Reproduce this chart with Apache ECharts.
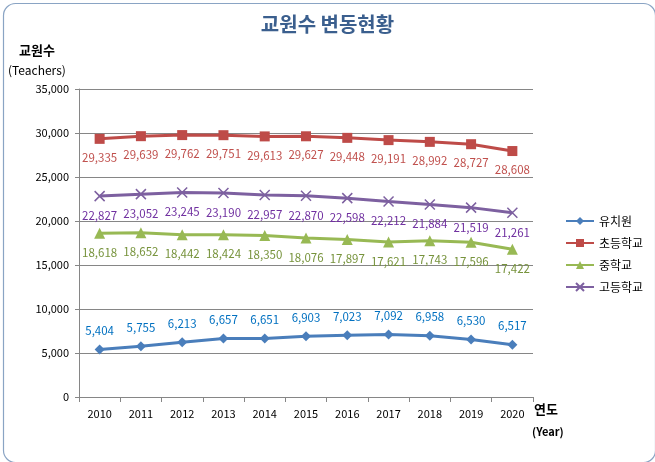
<!DOCTYPE html>
<html><head><meta charset="utf-8">
<script src="https://cdn.jsdelivr.net/npm/echarts@6/dist/echarts.min.js"></script>
<style>html,body{margin:0;padding:0;background:#fff}#c{width:655px;height:462px}</style>
</head><body><div id="c"></div>
<script>
const years = ['2010','2011','2012','2013','2014','2015','2016','2017','2018','2019','2020'];
const seriesNames = ['유치원','초등학교','중학교','고등학교'];
// plotted values (2020 points)
const kinder = [5404,5755,6213,6657,6651,6903,7023,7092,6958,6530,5950];
const elem = [29335,29639,29762,29751,29613,29627,29448,29191,28992,28727,27950];
const middle = [18618,18652,18442,18424,18350,18076,17897,17621,17743,17596,16780];
const high = [22827,23052,23245,23190,22957,22870,22598,22212,21884,21519,20940];
// data label texts
const kinderLabels = [5404,5755,6213,6657,6651,6903,7023,7092,6958,6530,6517];
const elemLabels = [29335,29639,29762,29751,29613,29627,29448,29191,28992,28727,28608];
const middleLabels = [18618,18652,18442,18424,18350,18076,17897,17621,17743,17596,17422];
const highLabels = [22827,23052,23245,23190,22957,22870,22598,22212,21884,21519,21261];
const yTicks = [0,5000,10000,15000,20000,25000,30000,35000];

const FONT = '"Noto Sans CJK KR", "Noto Sans", sans-serif';
const fmt = v => Number(v).toLocaleString('en-US');
const chart = echarts.init(document.getElementById('c'));

function mk(name, data, labels, color, labelColor, symbol, size, pos, extra) {
  return Object.assign({
    name, type: 'line', data, symbol, symbolSize: size,
    lineStyle: { width: 3, color },
    itemStyle: { color },
    label: {
      show: true, position: pos, distance: 8, color: labelColor,
      fontSize: 11.5, fontFamily: FONT,
      formatter: p => fmt(labels[p.dataIndex])
    },
    emphasis: { disabled: true },
    animation: false
  }, extra || {});
}

chart.setOption({
  animation: false,
  textStyle: { fontFamily: FONT },
  title: {
    text: '교원수 변동현황', left: 'center', top: 9,
    textStyle: { fontSize: 20, fontWeight: 'bold', color: '#3b5f8e', fontFamily: FONT }
  },
  legend: {
    orient: 'vertical', left: 560, top: 210, itemWidth: 28, itemHeight: 10, itemGap: 10,
    textStyle: { fontSize: 12, color: '#000', fontFamily: FONT },
    data: seriesNames
  },
  grid: { left: 79, right: 122, top: 89, bottom: 65 },
  xAxis: {
    type: 'category', data: years, boundaryGap: true,
    axisLine: { lineStyle: { color: '#868686' } },
    axisTick: { show: true, interval: 0, length: 5, lineStyle: { color: '#868686' } },
    axisLabel: { fontSize: 11, color: '#000', margin: 11, fontFamily: FONT }
  },
  yAxis: {
    type: 'value', min: yTicks[0], max: yTicks[yTicks.length-1], interval: 5000,
    axisLine: { show: true, lineStyle: { color: '#868686' } },
    axisTick: { show: true, length: 4, lineStyle: { color: '#868686' } },
    splitLine: { lineStyle: { color: '#868686' } },
    axisLabel: { fontSize: 11, color: '#000', margin: 10, formatter: v => fmt(v), fontFamily: FONT }
  },
  graphic: [
    { type: 'rect', left: 1, top: 1, shape: { width: 652, height: 459, r: 12 }, style: { fill: 'none', stroke: '#8aa4c4', lineWidth: 1.2 }, silent: true },
    { type: 'text', left: 19, top: 44, style: { text: '교원수', font: 'bold 13px ' + FONT, fill: '#000' } },
    { type: 'text', left: 8, top: 64, style: { text: '(Teachers)', font: '12px ' + FONT, fill: '#000' } },
    { type: 'text', left: 534, top: 403, style: { text: '연도', font: 'bold 13px ' + FONT, fill: '#000' } },
    { type: 'text', left: 532, top: 426, style: { text: '(Year)', font: 'bold 11px ' + FONT, fill: '#000' } }
  ],
  series: [
    mk('유치원', kinder, kinderLabels, '#4a7ebb', '#0070c0', 'diamond', 10, 'top'),
    mk('초등학교', elem, elemLabels, '#be4b48', '#c0504d', 'rect', 10, 'bottom'),
    mk('중학교', middle, middleLabels, '#98b954', '#77933c', 'triangle', 11, 'bottom'),
    mk('고등학교', high, highLabels, '#7d60a0', '#7030a0', 'path://M0,0 L10,10 M10,0 L0,10', 10, 'bottom',
      { itemStyle: { color: '#7d60a0', borderColor: '#7d60a0', borderWidth: 1.5 } })
  ]
});
</script></body></html>
